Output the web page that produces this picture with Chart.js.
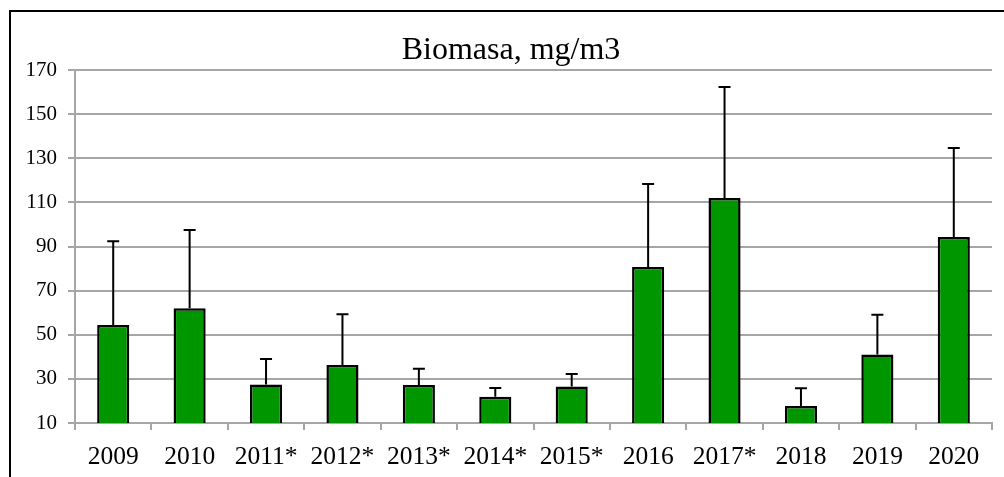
<!DOCTYPE html>
<html>
<head>
<meta charset="utf-8">
<title>Biomasa, mg/m3</title>
<script src="https://cdn.jsdelivr.net/npm/chart.js@4.4.1/dist/chart.umd.min.js"></script>
<style>
    html, body {
        margin: 0;
        padding: 0;
        background: #fff;
    }
    #frame {
        position: absolute;
        left: 9px;
        top: 10px;
        width: 1100px;
        height: 600px;
        border-left: 2px solid #000;
        border-top: 2px solid #000;
    }
    #chart-box {
        position: absolute;
        left: 0;
        top: 0;
        width: 1004px;
        height: 477px;
    }
</style>
</head>
<body>
<div id="frame"></div>
<div id="chart-box"><canvas id="biomass-chart"></canvas></div>
<script>
// 數據
const years = ['2009', '2010', '2011*', '2012*', '2013*', '2014*', '2015*', '2016', '2017*', '2018', '2019', '2020'];
const biomass = [54.4, 62, 27.5, 36.3, 27.2, 21.9, 26.5, 80.7, 112, 17.7, 41.1, 94.3];
const biomassSd = [38, 35.5, 11.5, 23, 7.4, 4, 5.7, 37.6, 50.3, 8, 18, 40.4];
const yTicks = [10, 30, 50, 70, 90, 110, 130, 150, 170];
const chartTitle = 'Biomasa, mg/m3';

const FONT = 'Liberation Serif, Times New Roman, serif';
const GRID = '#a6a6a6';

/**
 * 誤差線 (只畫上半部)
 */
const errorBars = {
    id: 'errorBars',
    afterDatasetsDraw(chart) {
        const ctx = chart.ctx;
        const yScale = chart.scales.y;
        const meta = chart.getDatasetMeta(0);

        ctx.save();
        ctx.strokeStyle = '#000';
        ctx.lineWidth = 2;
        meta.data.forEach((bar, i) => {
            const top = yScale.getPixelForValue(biomass[i]);
            const upper = yScale.getPixelForValue(biomass[i] + biomassSd[i]);
            ctx.beginPath();
            ctx.moveTo(bar.x, top);
            ctx.lineTo(bar.x, upper);
            ctx.moveTo(bar.x - 6, upper);
            ctx.lineTo(bar.x + 6, upper);
            ctx.stroke();
        });
        ctx.restore();
    }
};

/**
 * 標題 (置中於外框, 而非圖表區)
 */
const frameTitle = {
    id: 'frameTitle',
    afterDraw(chart) {
        const ctx = chart.ctx;
        ctx.save();
        ctx.font = `32px ${FONT}`;
        ctx.fillStyle = '#000';
        ctx.textAlign = 'center';
        ctx.textBaseline = 'alphabetic';
        ctx.fillText(chartTitle, 511, 59);
        ctx.restore();
    }
};

new Chart(document.getElementById('biomass-chart'), {
    type: 'bar',
    data: {
        labels: years,
        datasets: [{
            data: biomass,
            backgroundColor: '#009600',
            borderColor: '#000',
            borderWidth: 2.5,
            borderSkipped: 'bottom',
            barPercentage: 0.42,
            categoryPercentage: 1
        }]
    },
    options: {
        responsive: true,
        maintainAspectRatio: false,
        animation: false,
        layout: {
            padding: { left: 0, right: 12, top: 70, bottom: 0 }
        },
        plugins: {
            legend: { display: false },
            tooltip: { enabled: false },
            title: { display: false }
        },
        scales: {
            x: {
                offset: true,
                afterFit: (scale) => { scale.height = 54; },
                grid: {
                    offset: true,
                    drawOnChartArea: false,
                    color: GRID,
                    lineWidth: 2,
                    tickLength: 7
                },
                border: { color: GRID, width: 2 },
                ticks: {
                    color: '#000',
                    padding: 12,
                    maxRotation: 0,
                    autoSkip: false,
                    font: { family: FONT, size: 25.5 }
                }
            },
            y: {
                min: 10,
                max: 170,
                afterFit: (scale) => { scale.width = 75; },
                afterBuildTicks: (scale) => {
                    scale.ticks = yTicks.map(v => ({ value: v }));
                },
                grid: {
                    color: GRID,
                    lineWidth: 2,
                    tickLength: 7
                },
                border: { color: GRID, width: 2 },
                ticks: {
                    color: '#000',
                    padding: 11,
                    font: { family: FONT, size: 21 }
                }
            }
        }
    },
    plugins: [errorBars, frameTitle]
});
</script>
</body>
</html>
